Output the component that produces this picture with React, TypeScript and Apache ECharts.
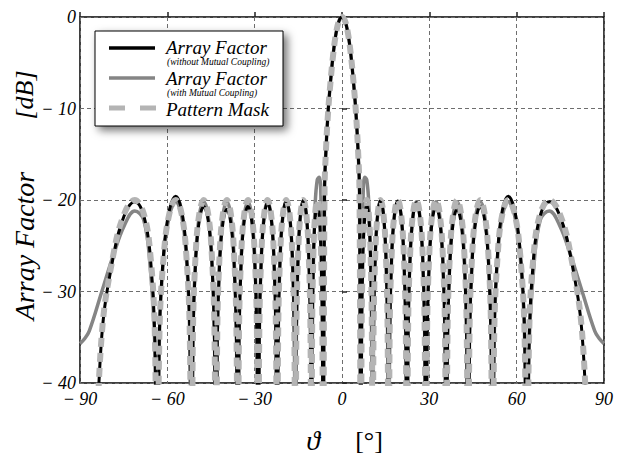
import React, { useEffect, useRef } from "react";
import * as echarts from "echarts";

const THETA = [
  -90, -88.5,
  -86.8, -82.5, -78.5, -74.8, -71.2, -68.1, -65.85, -64.3,
  -63.5, -62.7, -61.2, -59.3, -57.1, -55.1, -53.5, -52.3,
  -51.7, -51.2, -50.27, -49.01, -47.5, -45.99, -44.73, -43.8,
  -43.3, -42.85, -42.03, -40.9, -39.55, -38.2, -37.08, -36.25,
  -35.8, -35.38, -34.61, -33.56, -32.3, -31.04, -29.99, -29.22,
  -28.8, -28.41, -27.7, -26.72, -25.55, -24.38, -23.41, -22.69,
  -22.3, -21.92, -21.23, -20.28, -19.15, -18.02, -17.07, -16.38,
  -16, -15.67, -15.07, -14.24, -13.25, -12.26, -11.44, -10.83,
  -10.5, -10.26, -9.82, -9.22, -8.5, -7.78, -7.18, -6.74,
  -6.5, -6, -5.5, -4.8, -4, -3, -2, -1,
  0,
  1, 2, 3, 4, 4.8, 5.5, 6, 6.5,
  6.74, 7.18, 7.78, 8.5, 9.22, 9.82, 10.26, 10.5,
  10.83, 11.44, 12.26, 13.25, 14.24, 15.07, 15.67, 16,
  16.38, 17.07, 18.02, 19.15, 20.28, 21.23, 21.92, 22.3,
  22.69, 23.41, 24.38, 25.55, 26.72, 27.7, 28.41, 28.8,
  29.22, 29.99, 31.04, 32.3, 33.56, 34.61, 35.38, 35.8,
  36.25, 37.08, 38.2, 39.55, 40.9, 42.03, 42.85, 43.3,
  43.8, 44.73, 45.99, 47.5, 49.01, 50.27, 51.2, 51.7,
  52.3, 53.5, 55.1, 57.1, 59.3, 61.2, 62.7, 63.5,
  64.3, 65.85, 68.1, 71.2, 74.8, 78.5, 82.5, 86.8,
  88.5, 90,
];

// Array factor without mutual coupling [dB]
const AF_NO_MC = [
  -45, -50,
  -60, -34.8, -26.1, -21.7, -20.2, -21.7, -26.1, -34.8,
  -60, -34.2, -25.5, -21.1, -19.6, -21.1, -25.5, -34.2,
  -60, -35.3, -26.6, -22.2, -20.7, -22.2, -26.6, -35.3,
  -60, -35.6, -26.9, -22.5, -21, -22.5, -26.9, -35.6,
  -60, -35.3, -26.6, -22.2, -20.7, -22.2, -26.6, -35.3,
  -60, -34.9, -26.2, -21.8, -20.3, -21.8, -26.2, -34.9,
  -60, -34.7, -26, -21.6, -20.1, -21.6, -26, -34.7,
  -60, -34.6, -25.9, -21.5, -20, -21.5, -25.9, -34.6,
  -60, -35.1, -26.4, -22, -20.5, -22, -26.4, -35.1,
  -60, -19, -14.5, -10.5, -7.3, -4, -1.7, -0.4,
  0,
  -0.4, -1.7, -4, -7.3, -10.5, -14.5, -19, -60,
  -35.1, -26.4, -22, -20.5, -22, -26.4, -35.1, -60,
  -34.6, -25.9, -21.5, -20, -21.5, -25.9, -34.6, -60,
  -34.7, -26, -21.6, -20.1, -21.6, -26, -34.7, -60,
  -34.9, -26.2, -21.8, -20.3, -21.8, -26.2, -34.9, -60,
  -35.3, -26.6, -22.2, -20.7, -22.2, -26.6, -35.3, -60,
  -35.6, -26.9, -22.5, -21, -22.5, -26.9, -35.6, -60,
  -35.3, -26.6, -22.2, -20.7, -22.2, -26.6, -35.3, -60,
  -34.2, -25.5, -21.1, -19.6, -21.1, -25.5, -34.2, -60,
  -34.8, -26.1, -21.7, -20.2, -21.7, -26.1, -34.8, -60,
  -50, -45,
];

// Array factor with mutual coupling [dB]
const AF_MC = [
  -35.7, -35.2,
  -34.3, -30, -26, -22.8, -21.2, -22.2, -27.5, -36,
  -60, -34.8, -26.1, -21.7, -20.2, -21.7, -26.1, -34.8,
  -60, -34.8, -26.1, -21.7, -20.2, -21.7, -26.1, -34.8,
  -60, -34.8, -26.1, -21.7, -20.2, -21.7, -26.1, -34.8,
  -60, -34.8, -26.1, -21.7, -20.2, -21.7, -26.1, -34.8,
  -60, -34.8, -26.1, -21.7, -20.2, -21.7, -26.1, -34.8,
  -60, -34.8, -26.1, -21.7, -20.2, -21.7, -26.1, -34.8,
  -60, -34.8, -26.1, -21.7, -20.2, -21.7, -26.1, -34.8,
  -60, -38, -27, -20.5, -17.8, -17.5, -20.5, -28,
  -60, -19, -14.5, -10.5, -7.3, -4, -1.7, -0.4,
  0,
  -0.4, -1.7, -4, -7.3, -10.5, -14.5, -19, -60,
  -28, -20.5, -17.5, -17.8, -20.5, -27, -38, -60,
  -34.8, -26.1, -21.7, -20.2, -21.7, -26.1, -34.8, -60,
  -34.8, -26.1, -21.7, -20.2, -21.7, -26.1, -34.8, -60,
  -34.8, -26.1, -21.7, -20.2, -21.7, -26.1, -34.8, -60,
  -34.8, -26.1, -21.7, -20.2, -21.7, -26.1, -34.8, -60,
  -34.8, -26.1, -21.7, -20.2, -21.7, -26.1, -34.8, -60,
  -34.8, -26.1, -21.7, -20.2, -21.7, -26.1, -34.8, -60,
  -34.8, -26.1, -21.7, -20.2, -21.7, -26.1, -34.8, -60,
  -36, -27.5, -22.2, -21.2, -22.8, -26, -30, -34.3,
  -35.2, -35.7,
];

// Pattern mask [dB]
const MASK = [
  -48, -55,
  -60, -34.6, -25.9, -21.5, -20, -21.5, -25.9, -34.6,
  -60, -34.6, -25.9, -21.5, -20, -21.5, -25.9, -34.6,
  -60, -34.6, -25.9, -21.5, -20, -21.5, -25.9, -34.6,
  -60, -34.6, -25.9, -21.5, -20, -21.5, -25.9, -34.6,
  -60, -34.6, -25.9, -21.5, -20, -21.5, -25.9, -34.6,
  -60, -34.6, -25.9, -21.5, -20, -21.5, -25.9, -34.6,
  -60, -34.6, -25.9, -21.5, -20, -21.5, -25.9, -34.6,
  -60, -34.6, -25.9, -21.5, -20, -21.5, -25.9, -34.6,
  -60, -34.6, -25.9, -21.5, -20, -21.5, -25.9, -34.6,
  -60, -19, -14.5, -10.5, -7.3, -4, -1.7, -0.4,
  0,
  -0.4, -1.7, -4, -7.3, -10.5, -14.5, -19, -60,
  -34.6, -25.9, -21.5, -20, -21.5, -25.9, -34.6, -60,
  -34.6, -25.9, -21.5, -20, -21.5, -25.9, -34.6, -60,
  -34.6, -25.9, -21.5, -20, -21.5, -25.9, -34.6, -60,
  -34.6, -25.9, -21.5, -20, -21.5, -25.9, -34.6, -60,
  -34.6, -25.9, -21.5, -20, -21.5, -25.9, -34.6, -60,
  -34.6, -25.9, -21.5, -20, -21.5, -25.9, -34.6, -60,
  -34.6, -25.9, -21.5, -20, -21.5, -25.9, -34.6, -60,
  -34.6, -25.9, -21.5, -20, -21.5, -25.9, -34.6, -60,
  -34.6, -25.9, -21.5, -20, -21.5, -25.9, -34.6, -60,
  -55, -48,
];

const X_TICKS = [-90, -60, -30, 0, 30, 60, 90];
const Y_TICKS = [-40, -30, -20, -10, 0];

const LEGEND_TITLES = ["Array Factor", "Array Factor", "Pattern Mask"];
const LEGEND_SUBS = ["(without Mutual Coupling)", "(with Mutual Coupling)"];

const SERIF = "'Liberation Serif', 'DejaVu Serif', serif";

const fmt = (v: number) => (v < 0 ? "\u2212 " + Math.abs(v) : String(v));
const pairs = (ys: number[]) => THETA.map((t, i) => [t, ys[i]]);

export default function App() {
  const ref = useRef<HTMLDivElement>(null);
  useEffect(() => {
    if (!ref.current) return;
    const chart = echarts.init(ref.current, undefined, { renderer: "svg" });
    const gridLine = { show: true, lineStyle: { color: "#6e6e6e", width: 1, type: [4, 3] as any } };
    const label = { fontFamily: SERIF, fontStyle: "italic", fontSize: 18, color: "#000" };
    chart.setOption({
      animation: false,
      backgroundColor: "#fff",
      grid: { left: 80, right: 14, top: 17, bottom: 74, show: true, borderColor: "#000", borderWidth: 1.5, backgroundColor: "transparent" },
      xAxis: {
        type: "value",
        min: X_TICKS[0],
        max: X_TICKS[X_TICKS.length - 1],
        interval: 30,
        axisLine: { show: false },
        axisTick: { show: true, inside: true, length: 5, lineStyle: { color: "#222", width: 1.5 } },
        splitLine: gridLine,
        axisLabel: { ...label, margin: 7, formatter: fmt },
      },
      yAxis: {
        type: "value",
        min: Y_TICKS[0],
        max: Y_TICKS[Y_TICKS.length - 1],
        interval: 10,
        axisLine: { show: false },
        axisTick: { show: true, inside: true, length: 5, lineStyle: { color: "#222", width: 1.5 } },
        splitLine: gridLine,
        axisLabel: { ...label, margin: 4, formatter: fmt },
      },
      series: [
        {
          name: "Array Factor (with Mutual Coupling)",
          type: "line",
          data: pairs(AF_MC),
          smooth: 0.4,
          showSymbol: false,
          lineStyle: { color: "#858585", width: 3.5 },
          z: 2,
        },
        {
          name: "Array Factor (without Mutual Coupling)",
          type: "line",
          data: pairs(AF_NO_MC),
          smooth: 0.4,
          showSymbol: false,
          lineStyle: { color: "#000", width: 3 },
          z: 3,
        },
        {
          name: "Pattern Mask",
          type: "line",
          data: pairs(MASK),
          smooth: 0.4,
          showSymbol: false,
          lineStyle: { color: "#b4b4b4", width: 6, type: [9, 6] },
          z: 4,
        },
      ],
      graphic: [
        {
          type: "rect",
          z: 100,
          shape: { x: 95, y: 31, width: 188, height: 95 },
          style: { fill: "#fff", stroke: "#000", lineWidth: 1, shadowBlur: 8, shadowOffsetX: 4, shadowOffsetY: 4, shadowColor: "rgba(0,0,0,0.55)" },
        },
        { type: "line", z: 101, shape: { x1: 109, y1: 48, x2: 155, y2: 48 }, style: { stroke: "#000", lineWidth: 3.5 } },
        { type: "line", z: 101, shape: { x1: 109, y1: 78, x2: 155, y2: 78 }, style: { stroke: "#858585", lineWidth: 3.5 } },
        { type: "line", z: 101, shape: { x1: 109, y1: 108, x2: 156, y2: 108 }, style: { stroke: "#b4b4b4", lineWidth: 5, lineDash: [16, 15] } },
        { type: "text", z: 101, x: 166, y: 47, style: { text: LEGEND_TITLES[0], font: `italic 19px ${SERIF}`, fill: "#000", textVerticalAlign: "middle" } },
        { type: "text", z: 101, x: 167, y: 62, style: { text: LEGEND_SUBS[0], font: `italic 9.5px ${SERIF}`, fill: "#000", textVerticalAlign: "middle" } },
        { type: "text", z: 101, x: 166, y: 78, style: { text: LEGEND_TITLES[1], font: `italic 19px ${SERIF}`, fill: "#000", textVerticalAlign: "middle" } },
        { type: "text", z: 101, x: 167, y: 93, style: { text: LEGEND_SUBS[1], font: `italic 9.5px ${SERIF}`, fill: "#000", textVerticalAlign: "middle" } },
        { type: "text", z: 101, x: 166, y: 109, style: { text: LEGEND_TITLES[2], font: `italic 19px ${SERIF}`, fill: "#000", textVerticalAlign: "middle" } },
        // axis titles
        { type: "text", z: 101, x: 24, y: 246, rotation: Math.PI / 2, style: { text: "Array Factor", font: `italic 28px ${SERIF}`, fill: "#000", textAlign: "center", textVerticalAlign: "middle" } },
        { type: "text", z: 101, x: 24, y: 95, rotation: Math.PI / 2, style: { text: "[dB]", font: `italic 26px ${SERIF}`, fill: "#000", textAlign: "center", textVerticalAlign: "middle" } },
        { type: "text", z: 101, x: 313, y: 440, style: { text: "\u03d1", font: `italic 28px ${SERIF}`, fill: "#000", textAlign: "center", textVerticalAlign: "middle" } },
        { type: "text", z: 101, x: 369, y: 440, style: { text: "[\u00b0]", font: `26px ${SERIF}`, fill: "#000", textAlign: "center", textVerticalAlign: "middle" } },
      ],
    });
    return () => chart.dispose();
  }, []);
  return <div ref={ref} style={{ position: "absolute", left: 0, top: 0, width: 618, height: 457 }} />;
}
